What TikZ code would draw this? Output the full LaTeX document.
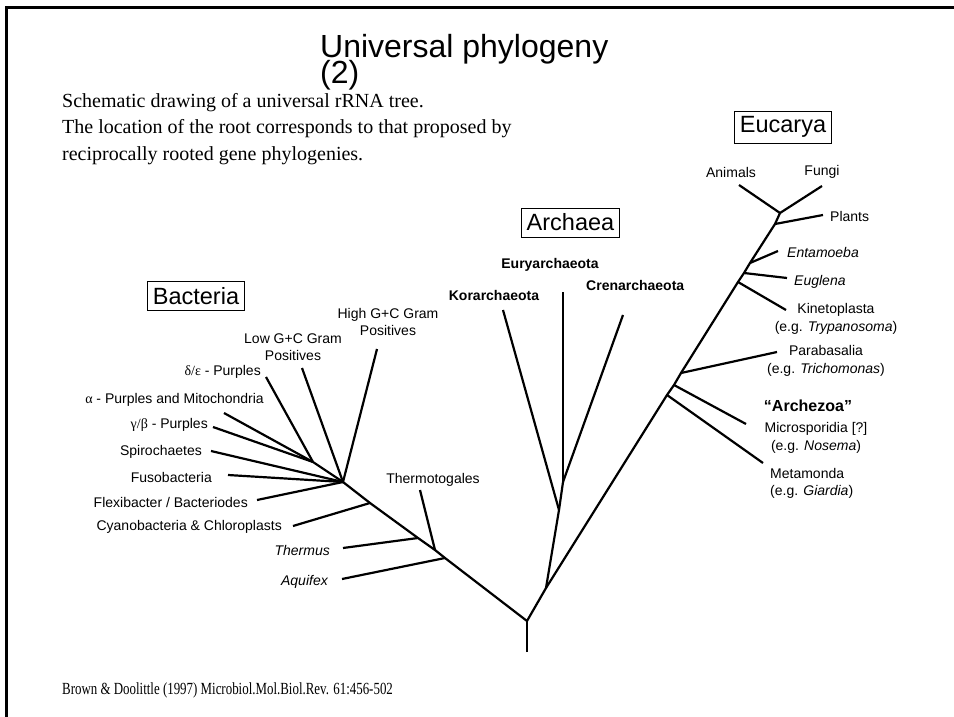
\documentclass[tikz,border=0pt]{standalone}
\usepackage{fontspec}
\setmainfont{Liberation Sans}
\newfontfamily\timesface{Liberation Serif}
\begin{document}
\begin{tikzpicture}[x=1pt,y=-1pt,
  branch/.style={line width=2.2pt},
  lbl/.style={font=\fontsize{14}{17.5}\selectfont, inner sep=0pt},
  clade/.style={lbl, font=\fontsize{14}{17.5}\selectfont\bfseries},
  domainbox/.style={draw, line width=0.9pt, inner xsep=5pt, inner ysep=0pt,
    minimum height=29pt, font=\fontsize{23.5}{26}\selectfont},
  serifline/.style={inner sep=0pt, anchor=base west, font=\timesface\fontsize{20}{22}\selectfont}]
\useasboundingbox (0,0) rectangle (954,717);
% frame
\draw[line width=2.6pt] (6.5,717) -- (6.5,7.5) -- (954,7.5);

% headings
\node[inner sep=0pt, anchor=base west, font=\fontsize{32}{32}\selectfont] (title) at (320,58) {Universal phylogeny};
\node[inner sep=0pt, anchor=base west, font=\fontsize{32}{32}\selectfont] (titlenum) at (320,84) {(2)};
\node[serifline] (cap1) at (62,107) {Schematic drawing of a universal rRNA tree.};
\node[serifline] (cap2) at (62,133) {The location of the root corresponds to that proposed by};
\node[serifline] (cap3) at (62,160) {reciprocally rooted gene phylogenies.};
\node[inner sep=0pt, anchor=base west, font=\timesface\fontsize{17}{20}\selectfont, xscale=0.76] (cite) at (62,694) {Brown \& Doolittle (1997) Microbiol.Mol.Biol.Rev. 61:456-502};

% domain boxes
\node[domainbox] (bact) at (196,296) {Bacteria};
\node[domainbox] (arch) at (570.5,222.5) {Archaea};
\node[domainbox, minimum height=32pt] (euk) at (783,127) {Eucarya};

% ---------- tree: inner nodes ----------
\coordinate (rootend) at (527,652);
\coordinate (R) at (527,621);
% bacteria
\coordinate (B0) at (343,482);
\coordinate (P) at (313,462);
\coordinate (bCy) at (370,503);
\coordinate (bTh) at (418,538);
\coordinate (bTo) at (435,550);
\coordinate (bAq) at (445,558);
% archaea
\coordinate (A3) at (546,588);
\coordinate (A2) at (559,510);
\coordinate (A1) at (563,482);
% eucarya
\coordinate (eMeta) at (667,395);
\coordinate (eMicro) at (674,385);
\coordinate (ePara) at (681,373);
\coordinate (eKin) at (738,282);
\coordinate (eEug) at (744,273);
\coordinate (eEnt) at (750,263);
\coordinate (E2) at (775,224);
\coordinate (E1) at (780,213);

% ---------- leaf ends ----------
\coordinate (tHigh) at (377,349);
\coordinate (tLow) at (302,368);
\coordinate (tDelta) at (266,377);
\coordinate (tAlpha) at (224,413);
\coordinate (tGamma) at (213,427);
\coordinate (tSpiro) at (211,451);
\coordinate (tFuso) at (228,475);
\coordinate (tFlex) at (257,500);
\coordinate (tCyano) at (293,526);
\coordinate (tThermus) at (343,548);
\coordinate (tAquifex) at (342,579);
\coordinate (tThermo) at (420,490);
\coordinate (tKor) at (503,310);
\coordinate (tEury) at (563,292);
\coordinate (tCren) at (623,315);
\coordinate (tMeta) at (763,463);
\coordinate (tMicro) at (746,424);
\coordinate (tPara) at (777,352);
\coordinate (tKin) at (786,310);
\coordinate (tEug) at (787,278);
\coordinate (tEnt) at (778,251);
\coordinate (tPlants) at (823,215);
\coordinate (tAnimals) at (739,185);
\coordinate (tFungi) at (822,186);

% ---------- labels ----------
\node[lbl, align=center] (lHigh) at (388,322) {High G+C Gram\\Positives};
\node[lbl, align=center] (lLow) at (293,347) {Low G+C Gram\\Positives};
\node[lbl, anchor=east] (lDelta) at (261,372) {{\timesface δ/ε} - Purples};
\node[lbl, anchor=east] (lAlpha) at (264,400) {{\timesface α} - Purples and Mitochondria};
\node[lbl, anchor=east] (lGamma) at (208,425) {{\timesface γ/β} - Purples};
\node[lbl, anchor=east] (lSpiro) at (202,452) {Spirochaetes};
\node[lbl, anchor=east] (lFuso) at (212,477) {Fusobacteria};
\node[lbl, anchor=east] (lFlex) at (248,502) {Flexibacter / Bacteriodes};
\node[lbl, anchor=east] (lCyano) at (282,527) {Cyanobacteria \& Chloroplasts};
\node[lbl, anchor=east] (lThermus) at (330,550) {\itshape Thermus};
\node[lbl, anchor=east] (lAquifex) at (328,582) {\itshape Aquifex};
\node[lbl] (lThermo) at (433,480) {Thermotogales};

\node[clade] (lKor) at (494,295) {Korarchaeota};
\node[clade] (lEury) at (550,265) {Euryarchaeota};
\node[clade, anchor=west] (lCren) at (586,285) {Crenarchaeota};

\node[lbl] (lAnimals) at (731,172) {Animals};
\node[lbl] (lFungi) at (822,172) {Fungi};
\node[lbl, anchor=west] (lPlants) at (830,216) {Plants};
\node[lbl, anchor=west] (lEnt) at (787,252) {\itshape Entamoeba};
\node[lbl, anchor=west] (lEug) at (794,282) {\itshape Euglena};
\node[lbl, align=center] (lKin) at (836,319) {Kinetoplasta\\(e.g. \textit{Trypanosoma})};
\node[lbl, align=center] (lPara) at (826,361) {Parabasalia\\(e.g. \textit{Trichomonas})};
\node[lbl, font=\fontsize{16}{19}\selectfont\bfseries] (lArchezoa) at (808,406) {“Archezoa”};
\node[lbl, align=center] (lMicro) at (816,438) {Microsporidia [?]\\(e.g. \textit{Nosema})};
\node[lbl, align=left, anchor=west] (lMeta) at (770,483.5) {Metamonda\\(e.g. \textit{Giardia})};

% ---------- branches ----------
\draw[line width=1.6pt] (rootend) -- (R);
% bacteria
\draw[branch] (R) -- (bAq) -- (bTo) -- (bTh) -- (bCy) -- (B0);
\draw[branch] (B0) -- (P);
\draw[branch] (B0) -- (tHigh);
\draw[branch] (B0) -- (tLow);
\draw[branch] (P) -- (tDelta);
\draw[branch] (P) -- (tAlpha);
\draw[branch] (P) -- (tGamma);
\draw[branch] (B0) -- (tSpiro);
\draw[branch] (B0) -- (tFuso);
\draw[branch] (B0) -- (tFlex);
\draw[branch] (bCy) -- (tCyano);
\draw[branch] (bTh) -- (tThermus);
\draw[branch] (bAq) -- (tAquifex);
\draw[branch] (bTo) -- (tThermo);
% archaea
\draw[branch] (R) -- (A3) -- (A2) -- (A1);
\draw[branch] (A1) -- (tEury);
\draw[branch] (A1) -- (tCren);
\draw[branch] (A2) -- (tKor);
% eucarya
\draw[branch] (A3) -- (eMeta) -- (eMicro) -- (ePara) -- (eKin) -- (eEug) -- (eEnt) -- (E2) -- (E1);
\draw[branch] (E1) -- (tAnimals);
\draw[branch] (E1) -- (tFungi);
\draw[branch] (E2) -- (tPlants);
\draw[branch] (eEnt) -- (tEnt);
\draw[branch] (eEug) -- (tEug);
\draw[branch] (eKin) -- (tKin);
\draw[branch] (ePara) -- (tPara);
\draw[branch] (eMicro) -- (tMicro);
\draw[branch] (eMeta) -- (tMeta);
\end{tikzpicture}
\end{document}
